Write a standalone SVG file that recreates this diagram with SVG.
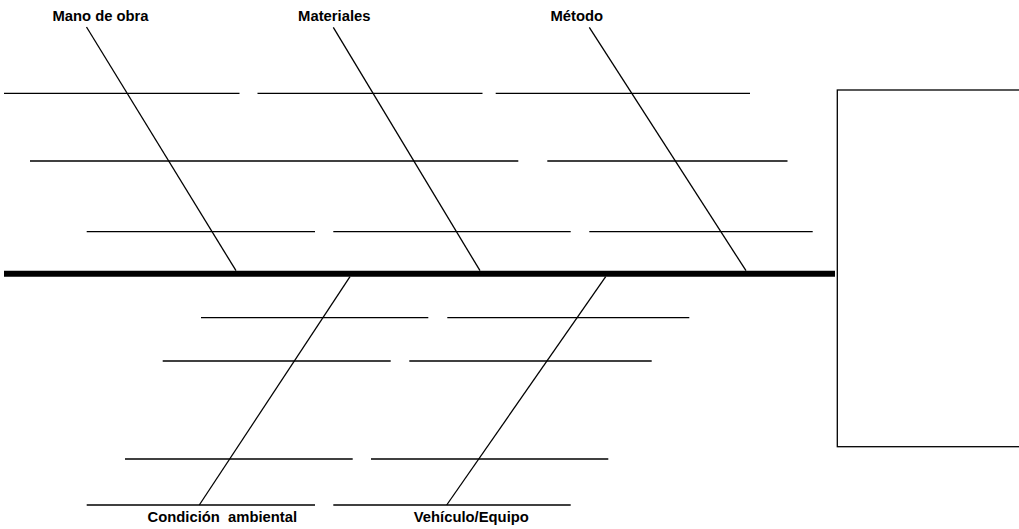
<svg xmlns="http://www.w3.org/2000/svg" width="1019" height="529" viewBox="0 0 1019 529">
  <style>
    .rule { stroke: #000; stroke-width: 1.3; fill: none; }
    .bone { stroke: #000; stroke-width: 1.3; fill: none; }
    .spine { stroke: #000; stroke-width: 6; fill: none; }
    .effect { stroke: #000; stroke-width: 1.3; fill: #fff; }
    .label { font-family: "Liberation Sans", Arial, sans-serif; font-weight: bold; font-size: 14.8px; fill: #000; text-anchor: middle; }
  </style>
  <rect width="1019" height="529" fill="#fff"/>

  <!-- effect box, open on the right edge -->
  <g id="effect">
    <rect class="effect" x="837.3" y="90" width="200" height="356.7"/>
  </g>

  <!-- blank cause lines (write-in rows) -->
  <g id="rows">
    <line class="rule" x1="4" y1="93.3" x2="239.5" y2="93.3"/>
    <line class="rule" x1="257.5" y1="93.3" x2="482.5" y2="93.3"/>
    <line class="rule" x1="495.7" y1="93.3" x2="750" y2="93.3"/>

    <line class="rule" x1="30" y1="161" x2="518.3" y2="161"/>
    <line class="rule" x1="547.3" y1="161" x2="787.5" y2="161"/>

    <line class="rule" x1="86.7" y1="231.7" x2="315" y2="231.7"/>
    <line class="rule" x1="333.3" y1="231.7" x2="570.7" y2="231.7"/>
    <line class="rule" x1="589.3" y1="231.7" x2="812.7" y2="231.7"/>

    <line class="rule" x1="201" y1="317.7" x2="428.3" y2="317.7"/>
    <line class="rule" x1="447.3" y1="317.7" x2="689.3" y2="317.7"/>

    <line class="rule" x1="162.7" y1="361" x2="390.7" y2="361"/>
    <line class="rule" x1="409.3" y1="361" x2="651.7" y2="361"/>

    <line class="rule" x1="125" y1="459" x2="352.7" y2="459"/>
    <line class="rule" x1="371" y1="459" x2="608.3" y2="459"/>

    <line class="rule" x1="86.7" y1="505" x2="315" y2="505"/>
    <line class="rule" x1="333.3" y1="505" x2="570.7" y2="505"/>
  </g>

  <!-- main spine and category bones -->
  <g id="connectors">
    <line class="spine" x1="4" y1="273.7" x2="835" y2="273.7"/>
    <line class="bone" x1="86.5" y1="27" x2="236" y2="270.7"/>
    <line class="bone" x1="333.3" y1="27.3" x2="480" y2="270.7"/>
    <line class="bone" x1="589.3" y1="27.3" x2="746" y2="270.7"/>
    <line class="bone" x1="350" y1="276.7" x2="199.3" y2="505"/>
    <line class="bone" x1="605.7" y1="276.7" x2="446.7" y2="505"/>
  </g>

  <g id="cat-mano-de-obra">
    <text class="label" x="100.5" y="21">Mano de obra</text>
  </g>
  <g id="cat-materiales">
    <text class="label" x="334.3" y="21">Materiales</text>
  </g>
  <g id="cat-metodo">
    <text class="label" x="576.8" y="21">Método</text>
  </g>
  <g id="cat-condicion-ambiental">
    <text class="label" x="222.3" y="521.5" xml:space="preserve">Condición  ambiental</text>
  </g>
  <g id="cat-vehiculo-equipo">
    <text class="label" x="471.3" y="521.5">Vehículo/Equipo</text>
  </g>
</svg>
